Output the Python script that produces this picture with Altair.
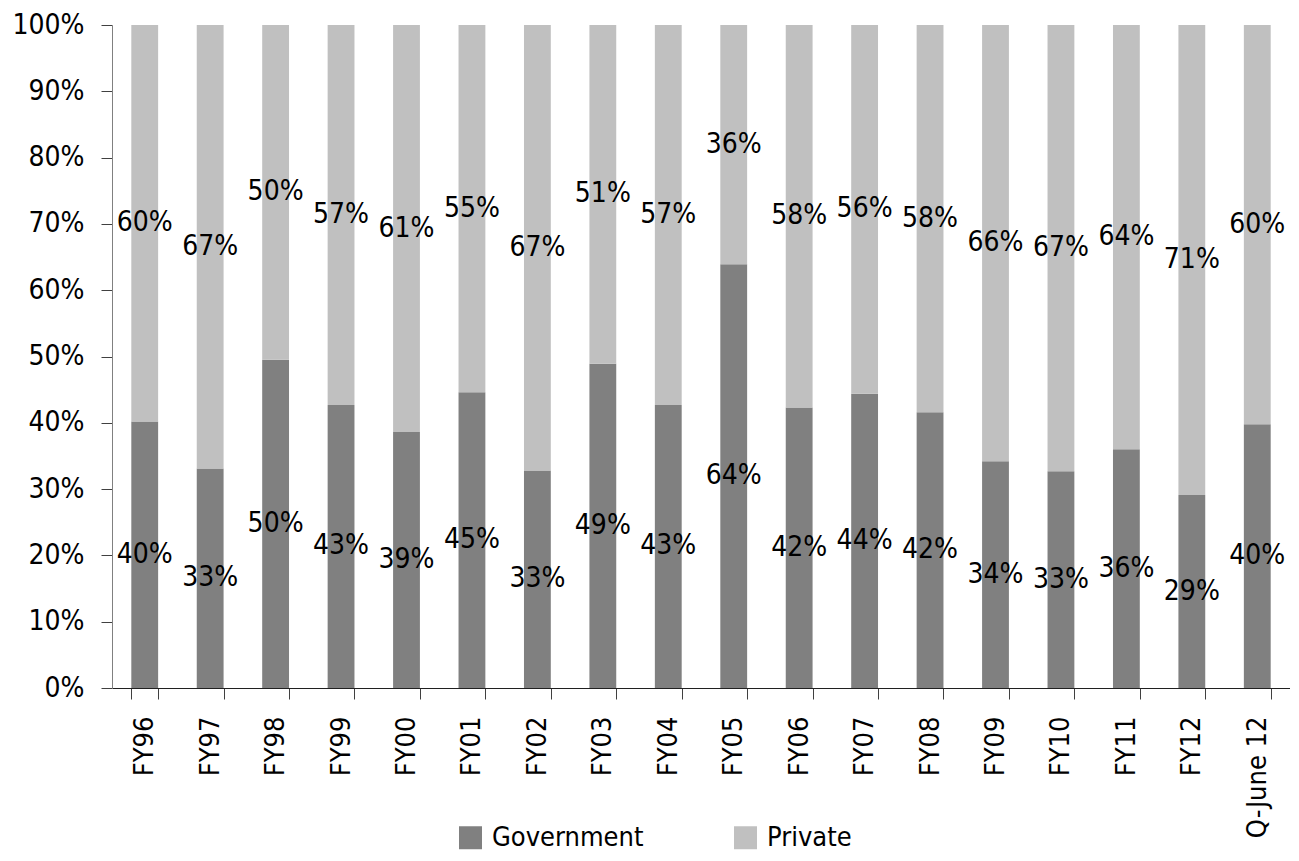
import altair as alt
import pandas as pd

categories = ["FY96", "FY97", "FY98", "FY99", "FY00", "FY01", "FY02", "FY03", "FY04",
              "FY05", "FY06", "FY07", "FY08", "FY09", "FY10", "FY11", "FY12", "Q-June 12"]
gov_share = [40.2, 33.1, 49.5, 42.7, 38.6, 44.6, 32.8, 48.9, 42.7,
             63.9, 42.3, 44.4, 41.6, 34.2, 32.7, 36.0, 29.1, 39.8]
gov_labels = [40, 33, 50, 43, 39, 45, 33, 49, 43, 64, 42, 44, 42, 34, 33, 36, 29, 40]
priv_labels = [60, 67, 50, 57, 61, 55, 67, 51, 57, 36, 58, 56, 58, 66, 67, 64, 71, 60]
series = ["Government", "Private"]
colors = ["#808080", "#c0c0c0"]

rows = []
for c, g, gl, pl in zip(categories, gov_share, gov_labels, priv_labels):
    rows.append({"cat": c, "series": "Government", "y0": 0, "y1": g,
                 "mid": g / 2, "label": f"{gl}%"})
    rows.append({"cat": c, "series": "Private", "y0": g, "y1": 100,
                 "mid": (g + 100) / 2, "label": f"{pl}%"})
df = pd.DataFrame(rows)

FONT = "DejaVu Sans Condensed"

x = alt.X("cat:N", sort=categories, title=None,
          scale=alt.Scale(paddingInner=0.59, paddingOuter=0.295),
          axis=alt.Axis(labelAngle=-90, labelAlign="right", labelBaseline="middle",
                        labelFontSize=27, labelFont=FONT, labelColor="#000000",
                        labelPadding=17, tickBand="extent", tickSize=11,
                        tickColor="#404040", domainColor="#202020", ticks=True,
                        grid=False))

bars = alt.Chart(df).mark_bar().encode(
    x=x,
    y=alt.Y("y0:Q", scale=alt.Scale(domain=[0, 100]), title=None,
            axis=alt.Axis(values=list(range(0, 101, 10)),
                          labelExpr="datum.value + '%'",
                          labelFontSize=28, labelFont=FONT, labelColor="#000000",
                          labelPadding=17, tickSize=11, tickColor="#404040",
                          domainColor="#808080", grid=False)),
    y2="y1:Q",
    color=alt.Color("series:N", scale=alt.Scale(domain=series, range=colors),
                    legend=alt.Legend(title=None, orient="none", direction="horizontal",
                                      legendX=345, legendY=799,
                                      symbolType="square", symbolSize=529,
                                      symbolStrokeWidth=0, labelFontSize=27,
                                      labelFont=FONT, labelColor="#000000",
                                      labelLimit=400,
                                      labelOffset=8, columnPadding=88, padding=0)),
)

labels = alt.Chart(df).mark_text(fontSize=28, font=FONT, color="#000000",
                                 baseline="middle", align="center").encode(
    x=alt.X("cat:N", sort=categories),
    y=alt.Y("mid:Q"),
    text="label:N",
)

chart = alt.layer(bars, labels).properties(
    width=1178, height=663,
    padding={"left": 104, "top": 17, "right": 0, "bottom": 165},
    autosize=alt.AutoSizeParams(type="none"),
).configure_view(stroke=None)

chart.save("out.html", embed_options={"renderer": "svg", "actions": False})
